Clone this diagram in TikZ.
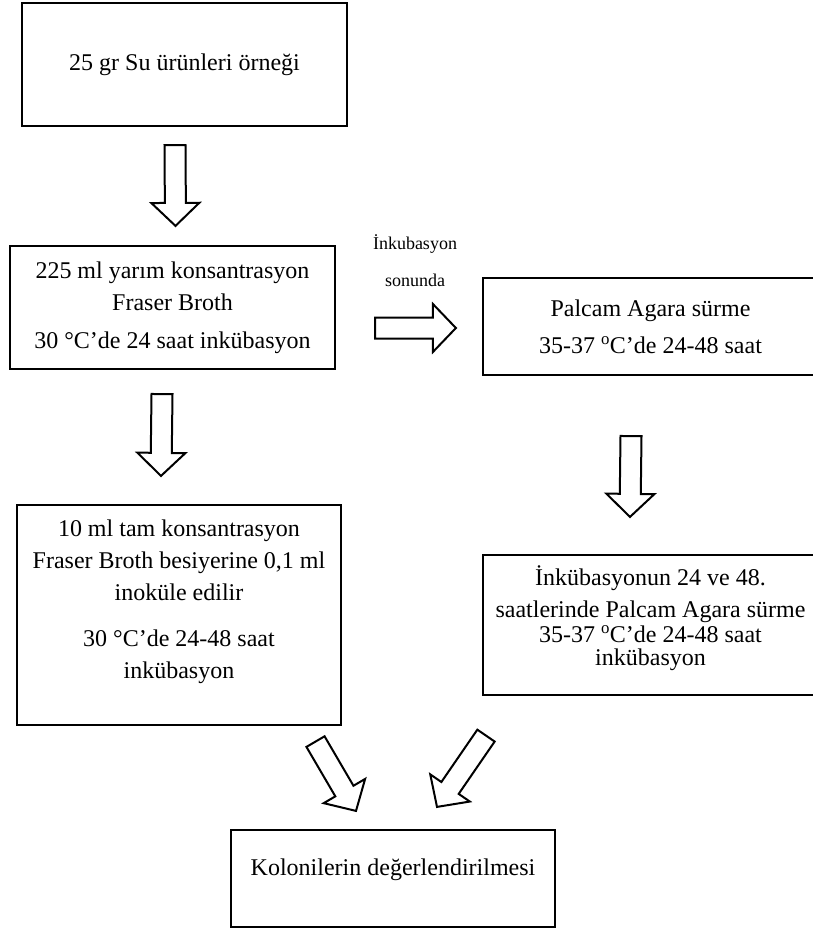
\documentclass[tikz,border=0pt]{standalone}
\usepackage{fontspec}
\setmainfont{Liberation Serif}
\usepackage{tikz}
\usetikzlibrary{
    calc
}
\tikzset{
    box/.style={
        draw,
        line width=2.2pt,
        align=center,
        inner sep=0pt,
        font=\fontsize{24}{32}\selectfont
    },
    fat arrow/.style={
        draw,
        line width=2pt,
        line join=miter,
        to path={
            ($(\tikztotarget)!23pt!(\tikztostart)$) coordinate (fa-h)
            ($(\tikztostart)!10.5pt!90:(\tikztotarget)$)
            -- ($(fa-h)!10.5pt!-90:(\tikztostart)$)
            -- ($(fa-h)!24pt!-90:(\tikztostart)$)
            -- (\tikztotarget)
            -- ($(fa-h)!24pt!90:(\tikztostart)$)
            -- ($(fa-h)!10.5pt!90:(\tikztostart)$)
            -- ($(\tikztostart)!10.5pt!-90:(\tikztotarget)$)
            -- cycle
        }
    }
}

\begin{document}
\begin{tikzpicture}[
    x=1pt,
    y=-1pt
]
    \useasboundingbox (0,0) rectangle (812,933);

    % Kutular
    \node[box, minimum width=325pt, minimum height=123pt] (sample) at (184.5,64.5)
        {25 gr Su ürünleri örneği};

    \node[box, minimum width=325pt, minimum height=123pt] (broth) at (172.5,307.5)
        {225 ml yarım konsantrasyon\\Fraser Broth\\[6pt]30 °C’de 24 saat inkübasyon};

    \node[box, minimum width=335pt, minimum height=97pt] (palcam) at (650.5,326.5)
        {Palcam Agara sürme\\[5pt]35-37 \textsuperscript{o}C’de 24-48 saat};

    \node[box, minimum width=324pt, minimum height=220pt] (enrich) at (179,615)
        {10 ml tam konsantrasyon\\Fraser Broth besiyerine 0,1 ml\\inoküle edilir\\[14pt]30 °C’de 24-48 saat\\inkübasyon\rule[-31pt]{0pt}{0pt}};

    \node[box, minimum width=335pt, minimum height=140pt,
          font=\fontsize{24}{25}\selectfont] (replate) at (650.5,625)
        {İnkübasyonun 24 ve 48.\\[7pt]saatlerinde Palcam Agara sürme\\35-37 \textsuperscript{o}C’de 24-48 saat\\[-2pt]inkübasyon\rule[-19pt]{0pt}{0pt}};

    \node[box, minimum width=324pt, minimum height=97pt] (colony) at (393,878.5)
        {Kolonilerin değerlendirilmesi\rule[-22pt]{0pt}{0pt}};

    \node[align=center, font=\fontsize{18}{23}\selectfont] (endnote) at (415,260.5)
        {İnkubasyon\\[14pt]sonunda};

    % Oklar
    \draw[fat arrow] ($(sample.south)+(-9.5,18)$) to ($(broth.north)+(3,-19)$);
    \draw[fat arrow] ($(broth.south)+(-10.5,24)$) to ($(enrich.north)+(-18,-28)$);
    \draw[fat arrow] ($(broth.east)+(39,20.5)$) to ($(palcam.west)+(-26,1.5)$);
    \draw[fat arrow] ($(palcam.south)+(-19.5,60)$) to ($(replate.north)+(-20.5,-37)$);
    \draw[fat arrow] ($(enrich.south)+(136.5,15.5)$) to ($(colony.north)+(-37,-18)$);
    \draw[fat arrow] ($(replate.south)+(-164.5,39.5)$) to ($(colony.north)+(44,-22)$);

\end{tikzpicture}
\end{document}
